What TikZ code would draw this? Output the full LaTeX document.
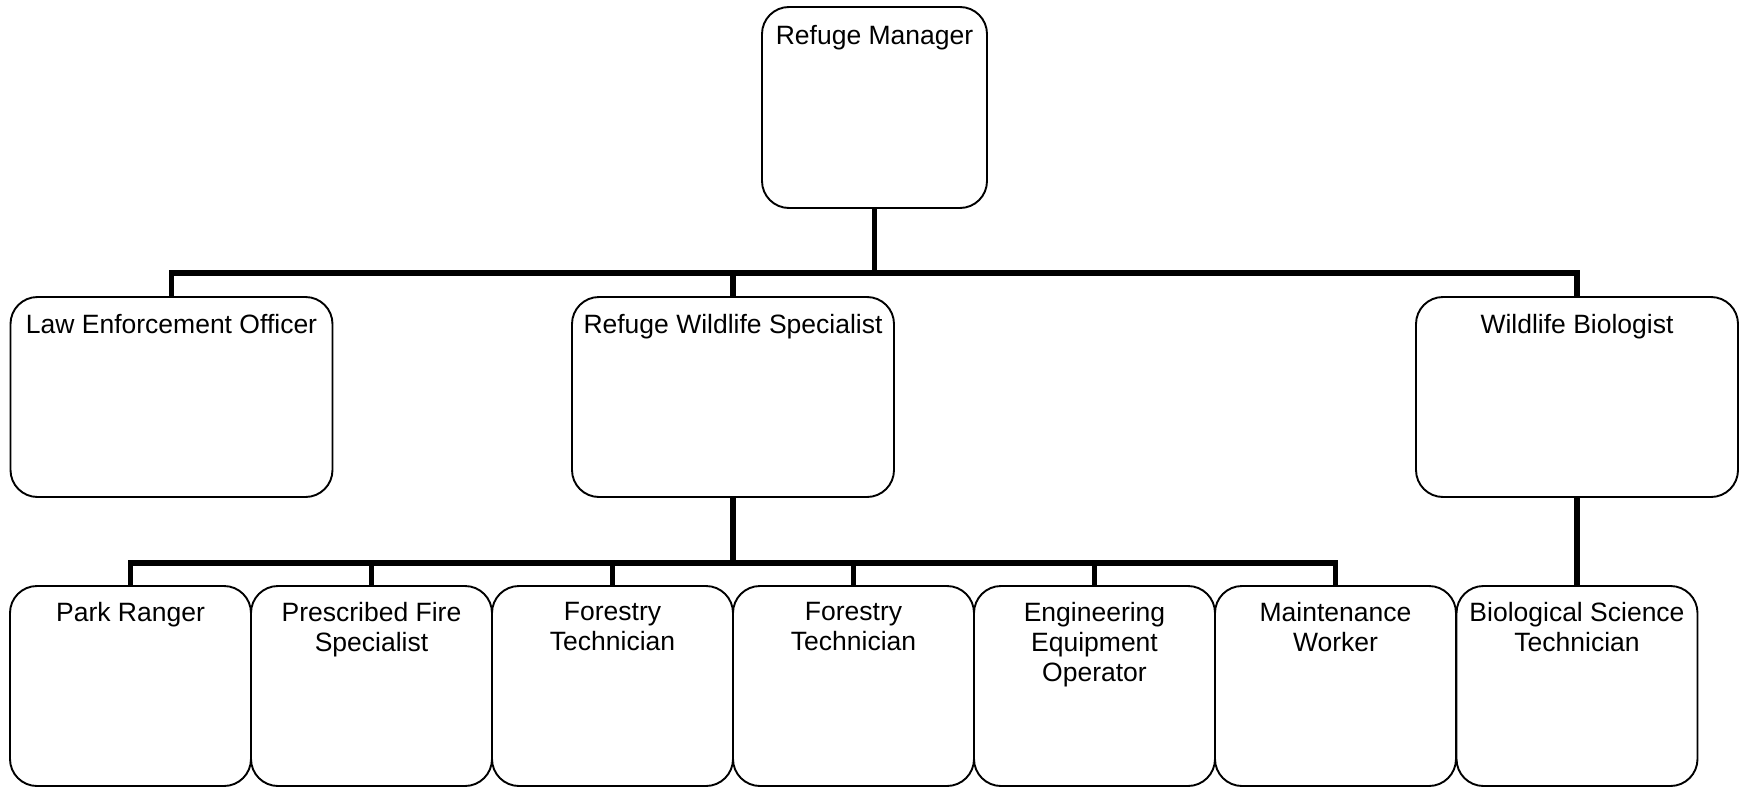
\documentclass[tikz,border=0pt]{standalone}
\usepackage{fontspec}
\setmainfont{Liberation Sans}
\begin{document}
\begin{tikzpicture}[x=1pt,y=-1pt,
  box/.style={draw=black, line width=1.9pt, rounded corners=27pt, inner sep=0pt, fill=white},
  mgrbox/.style={box, minimum width=225pt, minimum height=201pt},
  midbox/.style={box, minimum width=322pt, minimum height=200pt},
  lowbox/.style={box, minimum width=241pt, minimum height=200pt},
  boxtext/.style={anchor=north, inner sep=0pt, align=center, font=\fontsize{26.5}{30}\selectfont},
  conn/.style={line width=5.5pt, draw=black, line join=miter}]
\useasboundingbox[fill=white] (0,0) rectangle (1745,787);

\coordinate (busA) at (0,273);
\coordinate (busB) at (0,563);

% boxes
\node[mgrbox] (mgr) at (874.5,107.5) {};
\node[midbox] (law) at (171.5,397) {};
\node[midbox] (rws) at (733,397) {};
\node[midbox] (wb)  at (1577,397) {};
\node[lowbox] (pr)  at (130.5,686) {};
\node[lowbox] (pfs) at (371.5,686) {};
\node[lowbox] (ft1) at (612.5,686) {};
\node[lowbox] (ft2) at (853.5,686) {};
\node[lowbox] (eeo) at (1094.5,686) {};
\node[lowbox] (mw)  at (1335.5,686) {};
\node[lowbox] (bst) at (1577,686) {};

% texts
\node[boxtext] (tmgr) at ([yshift=-19pt]mgr.north) {Refuge Manager};
\node[boxtext] (tlaw) at ([yshift=-18pt]law.north) {Law Enforcement Officer};
\node[boxtext] (trws) at ([yshift=-18pt]rws.north) {Refuge Wildlife Specialist};
\node[boxtext] (twb)  at ([yshift=-18pt]wb.north) {Wildlife Biologist};
\node[boxtext] (tpr)  at ([yshift=-17pt]pr.north) {Park Ranger};
\node[boxtext] (tpfs) at ([yshift=-17pt]pfs.north) {Prescribed Fire\\Specialist};
\node[boxtext] (tft1) at ([yshift=-17pt]ft1.north) {Forestry\\Technician};
\node[boxtext] (tft2) at ([yshift=-17pt]ft2.north) {Forestry\\Technician};
\node[boxtext] (teeo) at ([yshift=-17pt]eeo.north) {Engineering\\Equipment\\Operator};
\node[boxtext] (tmw)  at ([yshift=-17pt]mw.north) {Maintenance\\Worker};
\node[boxtext] (tbst) at ([yshift=-17pt]bst.north) {Biological Science\\Technician};

% connectors, level 1
\draw[conn] (mgr.south) -- (mgr.south |- busA);
\draw[conn] (law.north) |- (wb.north |- busA) -- (wb.north);
\draw[conn] (rws.north) -- (rws.north |- busA);

% connectors, level 2
\draw[conn] (rws.south) -- (rws.south |- busB);
\draw[conn] (pr.north) |- (mw.north |- busB) -- (mw.north);
\draw[conn] (pfs.north) -- (pfs.north |- busB);
\draw[conn] (ft1.north) -- (ft1.north |- busB);
\draw[conn] (ft2.north) -- (ft2.north |- busB);
\draw[conn] (eeo.north) -- (eeo.north |- busB);
\draw[conn] (wb.south) -- (bst.north);
\end{tikzpicture}
\end{document}
